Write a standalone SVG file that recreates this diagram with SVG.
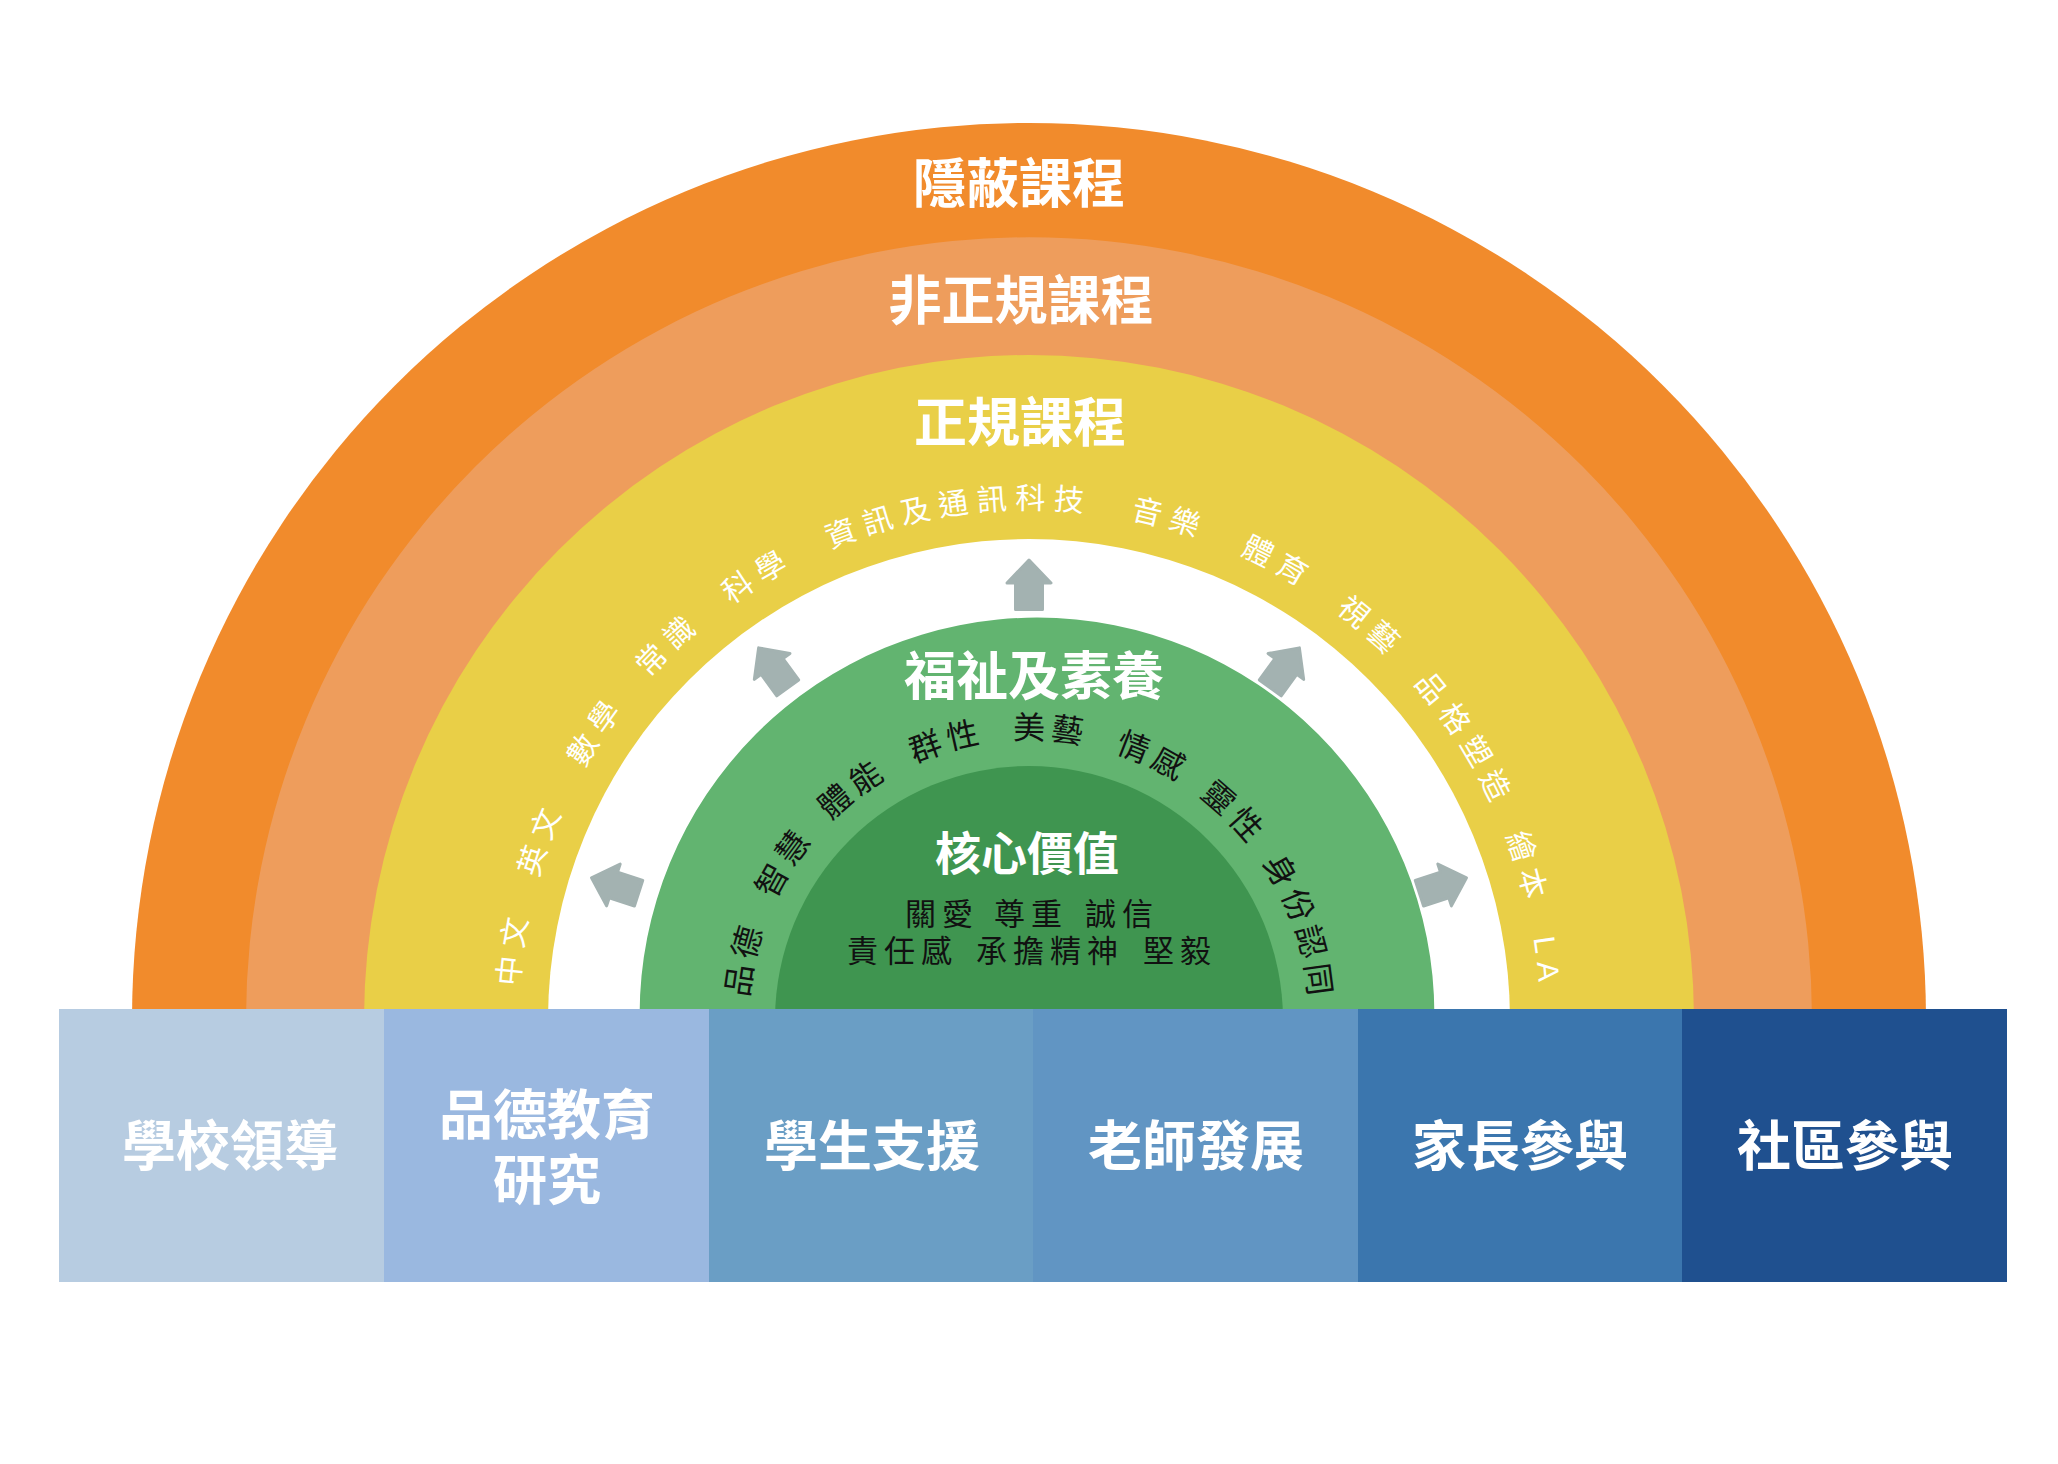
<svg xmlns="http://www.w3.org/2000/svg" xmlns:xlink="http://www.w3.org/1999/xlink" width="2058" height="1464" viewBox="0 0 2058 1464">
<style>
.title{font-family:'Liberation Sans','Noto Sans CJK TC','Noto Sans CJK SC',sans-serif;font-weight:700;fill:#fff;text-anchor:middle}
.big{font-size:53px}
.box{font-size:54px}
.ytxt{font-family:'Liberation Sans','Noto Sans CJK TC','Noto Sans CJK SC',sans-serif;font-size:30px;fill:#fff;letter-spacing:8px;text-anchor:middle}
.gtxt{font-family:'Liberation Sans','Noto Sans CJK TC','Noto Sans CJK SC',sans-serif;font-size:32px;fill:#111;letter-spacing:5px;text-anchor:middle}
.ctxt{font-family:'Liberation Sans','Noto Sans CJK TC','Noto Sans CJK SC',sans-serif;font-size:31px;fill:#111;letter-spacing:6px}
.arrow{fill:#A3B2B1;stroke:#A3B2B1;stroke-width:3;stroke-linejoin:round}
</style>
<defs>
<path id="yPath" d="M518,1020 A511,511 0 0 1 1540,1020"/>
<path id="gPath" d="M748,1020 A281,281 0 0 1 1310,1020"/>
<path id="arw" d="M0,-25 L22,-2 L13.5,-2 L13.5,24.5 L-13.5,24.5 L-13.5,-2 L-22,-2 Z"/>
</defs>
<rect width="2058" height="1464" fill="#fff"/>

<g id="ring-hidden">
<path d="M132,1020 A897,897 0 0 1 1926,1020 Z" fill="#F18B2C"/>
<text class="title big" x="1019" y="203">隱蔽課程</text>
</g>
<g id="ring-nonformal">
<path d="M246,1020 A783,783 0 0 1 1812,1020 Z" fill="#EE9D5C"/>
<text class="title big" x="1021" y="320">非正規課程</text>
</g>
<g id="ring-formal">
<path d="M364,1020 A665,665 0 0 1 1694,1020 Z" fill="#E9CF47"/>
<text class="title big" x="1020" y="442">正規課程</text>
<text class="ytxt"><textPath href="#yPath" xlink:href="#yPath" startOffset="4.44%">中文</textPath></text>
<text class="ytxt"><textPath href="#yPath" xlink:href="#yPath" startOffset="11.33%">英文</textPath></text>
<text class="ytxt"><textPath href="#yPath" xlink:href="#yPath" startOffset="18.78%">數學</textPath></text>
<text class="ytxt"><textPath href="#yPath" xlink:href="#yPath" startOffset="25.67%">常識</textPath></text>
<text class="ytxt"><textPath href="#yPath" xlink:href="#yPath" startOffset="32.56%">科學</textPath></text>
<text class="ytxt"><textPath href="#yPath" xlink:href="#yPath" startOffset="45.6%">資訊及通訊科技</textPath></text>
<text class="ytxt"><textPath href="#yPath" xlink:href="#yPath" startOffset="58.72%">音樂</textPath></text>
<text class="ytxt"><textPath href="#yPath" xlink:href="#yPath" startOffset="65.89%">體育</textPath></text>
<text class="ytxt"><textPath href="#yPath" xlink:href="#yPath" startOffset="72.83%">視藝</textPath></text>
<text class="ytxt"><textPath href="#yPath" xlink:href="#yPath" startOffset="81.83%">品格塑造</textPath></text>
<text class="ytxt"><textPath href="#yPath" xlink:href="#yPath" startOffset="90.61%">繪本</textPath></text>
<text class="ytxt"><textPath href="#yPath" xlink:href="#yPath" startOffset="96.5%">LA</textPath></text>
</g>
<g id="ring-gap">
<path d="M548,1020 A481,481 0 0 1 1510,1020 Z" fill="#FFFFFF"/>
</g>
<g id="ring-wellbeing">
<path d="M639.6,1015 A397.4,397.4 0 0 1 1434.4,1015 L1434.4,1020 L639.6,1020 Z" fill="#62B470"/>
<text class="title" style="font-size:52px" x="1034" y="695">福祉及素養</text>
<text class="gtxt"><textPath href="#gPath" xlink:href="#gPath" startOffset="6.72%">品德</textPath></text>
<text class="gtxt"><textPath href="#gPath" xlink:href="#gPath" startOffset="18.22%">智慧</textPath></text>
<text class="gtxt"><textPath href="#gPath" xlink:href="#gPath" startOffset="29.28%">體能</textPath></text>
<text class="gtxt"><textPath href="#gPath" xlink:href="#gPath" startOffset="40.83%">群性</textPath></text>
<text class="gtxt"><textPath href="#gPath" xlink:href="#gPath" startOffset="52.39%">美藝</textPath></text>
<text class="gtxt"><textPath href="#gPath" xlink:href="#gPath" startOffset="64%">情感</textPath></text>
<text class="gtxt"><textPath href="#gPath" xlink:href="#gPath" startOffset="74.83%">靈性</textPath></text>
<text class="gtxt"><textPath href="#gPath" xlink:href="#gPath" startOffset="89.5%">身份認同</textPath></text>
</g>
<g id="core-values">
<path d="M775,1020 A254,254 0 0 1 1283,1020 Z" fill="#3F9550"/>
<text class="title" style="font-size:46px" x="1027" y="870">核心價值</text>
<text class="ctxt" y="925"><tspan x="905">關愛</tspan><tspan x="994">尊重</tspan><tspan x="1085">誠信</tspan></text>
<text class="ctxt" y="962"><tspan x="847">責任感</tspan><tspan x="976">承擔精神</tspan><tspan x="1143">堅毅</tspan></text>
</g>

<g id="connectors">
<use href="#arw" xlink:href="#arw" class="arrow" transform="translate(1029,1020) rotate(-72) translate(0,-435)"/>
<use href="#arw" xlink:href="#arw" class="arrow" transform="translate(1029,1020) rotate(-36) translate(0,-435)"/>
<use href="#arw" xlink:href="#arw" class="arrow" transform="translate(1029,1020) translate(0,-435)"/>
<use href="#arw" xlink:href="#arw" class="arrow" transform="translate(1029,1020) rotate(36) translate(0,-435)"/>
<use href="#arw" xlink:href="#arw" class="arrow" transform="translate(1029,1020) rotate(72) translate(0,-435)"/>
</g>

<g id="box-leadership">
<rect x="59" y="1009" width="325" height="273" fill="#B7CCE1"/>
<text class="title box" x="230" y="1166">學校領導</text>
</g>
<g id="box-research">
<rect x="384" y="1009" width="325" height="273" fill="#9AB8E0"/>
<text class="title box" x="547" y="1135">品德教育</text>
<text class="title box" x="547" y="1200">研究</text>
</g>
<g id="box-student">
<rect x="709" y="1009" width="324" height="273" fill="#6A9EC5"/>
<text class="title box" x="872" y="1166">學生支援</text>
</g>
<g id="box-teacher">
<rect x="1033" y="1009" width="325" height="273" fill="#6195C3"/>
<text class="title box" x="1196" y="1166">老師發展</text>
</g>
<g id="box-parent">
<rect x="1358" y="1009" width="324" height="273" fill="#3B76AE"/>
<text class="title box" x="1520" y="1166">家長參與</text>
</g>
<g id="box-community">
<rect x="1682" y="1009" width="325" height="273" fill="#1F508F"/>
<text class="title box" x="1845" y="1166">社區參與</text>
</g>
</svg>
